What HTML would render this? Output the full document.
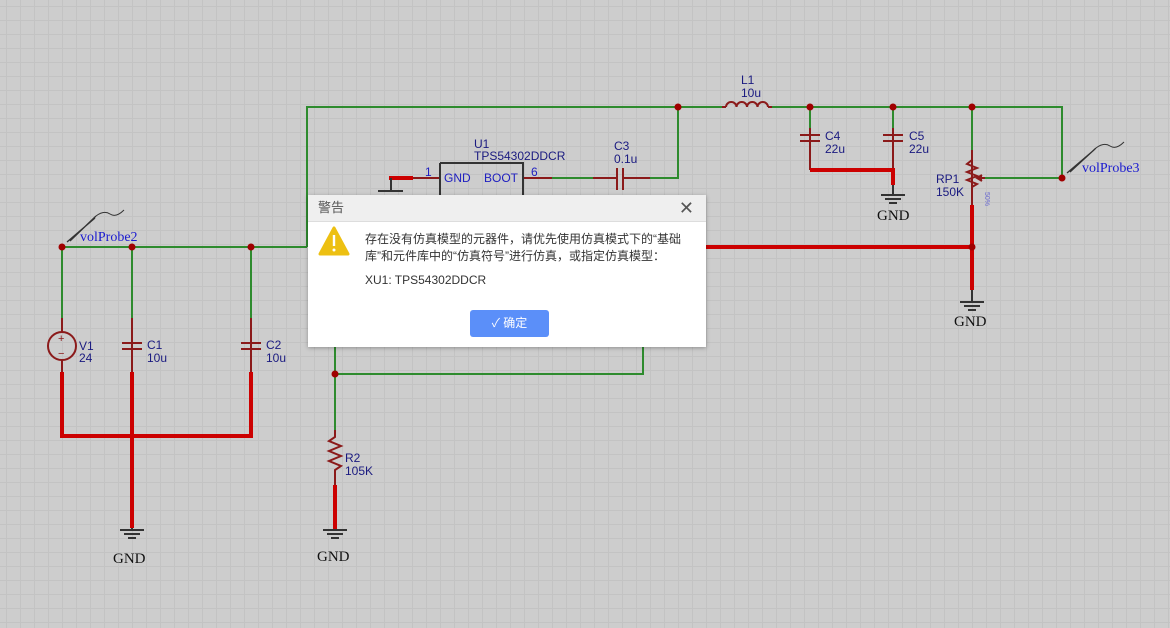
<!DOCTYPE html>
<html><head><meta charset="utf-8"><style>
body{margin:0;width:1170px;height:628px;overflow:hidden;background:#cdcdcd;font-family:"Liberation Sans","Noto Sans CJK SC",sans-serif}
#bg{position:absolute;left:0;top:0;width:1170px;height:628px;background-color:#cdcdcd;background-image:linear-gradient(#c3c3c3 1px,transparent 1px),linear-gradient(90deg,#c3c3c3 1px,transparent 1px);background-size:14px 14px;background-position:6px 6px}
svg{position:absolute;left:0;top:0}
.dlg{position:absolute;left:308px;top:195px;width:398px;height:152px;background:#fff;box-shadow:0 1px 4px rgba(0,0,0,.3)}
.hd{height:26px;background:#efefef;border-bottom:1px solid #ddd;font-size:13px;color:#555;line-height:26px;padding-left:10px}
.x{position:absolute;right:12px;top:3px;font-size:18px;color:#555}
.msg{position:absolute;left:57px;top:36px;font-size:12px;color:#333;line-height:17px}
.xu{position:absolute;left:57px;top:78px;font-size:12px;color:#333}
.btn{position:absolute;left:162px;top:115px;width:79px;height:27px;background:#5b8ff9;border-radius:3px;color:#fff;font-size:12px;line-height:27px;text-align:center}
</style></head><body>
<div id="bg"></div>
<svg width="1170" height="628" font-family="Liberation Sans,sans-serif">
<g fill="none" stroke="#2e8b2e" stroke-width="2">
<path d="M307 247V107H722M772 107H1062V178H985"/>
<path d="M62 318V247H307M132 247V318M251 247V318"/>
<path d="M552 178H593M650 178H678V107"/>
<path d="M810 107V128M893 107V128M972 107V150"/>
<path d="M335 347V430M335 374H643V347"/>
</g>
<g fill="none" stroke="#8b1a1a" stroke-width="2">
<path d="M413 178H440M523 178H552M593 178H617M623 178H650"/>
<path d="M617 168V190M623 168V190"/>
<path d="M722 107h4m42 0h4"/>
<path d="M726 107a5.25 5 0 0 1 10.5 0a5.25 5 0 0 1 10.5 0a5.25 5 0 0 1 10.5 0a5.25 5 0 0 1 10.5 0"/>
<path d="M810 128V170M800 135H820M800 141H820M893 128V170M883 135H903M883 141H903"/>
<path d="M972 150V205M972 160l-5 4l10 4l-10 4l10 4l-10 4l10 4l-5 3"/>
<path d="M985 178H977M982 175l-5 3l5 3" fill="#8b1a1a"/>
<circle cx="62" cy="346" r="14"/>
<path d="M62 318V332M62 360V372M132 318V372M122 343H142M122 349H142M251 318V372M241 343H261M241 349H261"/>
<path d="M335 430V437l-6 4l12 5l-12 5l12 5l-12 5l12 5l-6 4V485"/>
</g>
<text x="58" y="342" font-size="11" fill="#8b1a1a">+</text><text x="58" y="357" font-size="11" fill="#8b1a1a">−</text>
<g fill="none" stroke="#cc0000" stroke-width="4">
<path d="M389 178H413"/>
<path d="M62 372V436H251V372M132 372V528"/>
<path d="M706 247H972M972 205V290"/>
<path d="M810 170H893V185"/>
<path d="M335 485V530"/>
</g>
<g stroke="#333" stroke-width="2" fill="none">
<path d="M440 163H523V195M440 163V195"/>
<path d="M378 191H403M391 178V191"/>
<path d="M120 530H144M124 534H140M128 538H136M132 528V530"/>
<path d="M323 530H347M327 534H343M331 538H339"/>
<path d="M881 195H905M885 199H901M889 203H897M893 185V195"/>
<path d="M960 302H984M964 306H980M968 310H976M972 290V302"/>
<path d="M67 242L95 218M70 241L96 216" stroke-width="1.3"/>
<path d="M96 216q8-6 14 -2t14 -4" stroke-width="1"/>
<path d="M1067 173L1094 150M1070 172L1096 148" stroke-width="1.3"/>
<path d="M1096 148q8-6 14-2t14-4" stroke-width="1"/>
</g>
<g fill="#a00000">
<circle cx="678" cy="107" r="3.5"/><circle cx="810" cy="107" r="3.5"/><circle cx="893" cy="107" r="3.5"/><circle cx="972" cy="107" r="3.5"/>
<circle cx="1062" cy="178" r="3.5"/><circle cx="62" cy="247" r="3.5"/><circle cx="132" cy="247" r="3.5"/><circle cx="251" cy="247" r="3.5"/>
<circle cx="972" cy="247" r="3.5"/><circle cx="335" cy="374" r="3.5"/>
</g>
<g font-size="12" fill="#1a1a80">
<text x="474" y="148">U1</text><text x="474" y="160">TPS54302DDCR</text>
<text x="425" y="176" fill="#2020c0">1</text><text x="444" y="182" fill="#2020c0">GND</text><text x="484" y="182" fill="#2020c0">BOOT</text><text x="531" y="176" fill="#2020c0">6</text>
<text x="614" y="150">C3</text><text x="614" y="163">0.1u</text>
<text x="741" y="84">L1</text><text x="741" y="97">10u</text>
<text x="825" y="140">C4</text><text x="825" y="153">22u</text>
<text x="909" y="140">C5</text><text x="909" y="153">22u</text>
<text x="936" y="183">RP1</text><text x="936" y="196">150K</text>
<text x="79" y="350">V1</text><text x="79" y="362">24</text>
<text x="147" y="349">C1</text><text x="147" y="362">10u</text>
<text x="266" y="349">C2</text><text x="266" y="362">10u</text>
<text x="345" y="462">R2</text><text x="345" y="475">105K</text>
</g>
<text x="985" y="192" font-size="7" fill="#6a6ad0" transform="rotate(90 985 192)">50%</text>
<g font-family="Liberation Serif,serif" font-size="15" fill="#111">
<text x="113" y="563">GND</text><text x="317" y="561">GND</text><text x="877" y="220">GND</text><text x="954" y="326">GND</text>
</g>
<g font-family="Liberation Serif,serif" font-size="14" fill="#1a1ad0">
<text x="80" y="241">volProbe2</text><text x="1082" y="172">volProbe3</text>
</g>
</svg>
<div class="dlg">
<div class="hd">警告</div><div class="x">✕</div>
<svg width="40" height="40" style="left:9px;top:28px"><path d="M17 5L31 31H3Z" fill="#edc012" stroke="#edc012" stroke-width="3" stroke-linejoin="round"/><rect x="15.8" y="12" width="2.4" height="11" fill="#fff"/><circle cx="17" cy="27" r="1.5" fill="#fff"/></svg>
<div class="msg">存在没有仿真模型的元器件，请优先使用仿真模式下的“基础<br>库”和元件库中的“仿真符号”进行仿真，或指定仿真模型：</div>
<div class="xu">XU1: TPS54302DDCR</div>
<div class="btn">✓ 确定</div>
</div>
</body></html>
